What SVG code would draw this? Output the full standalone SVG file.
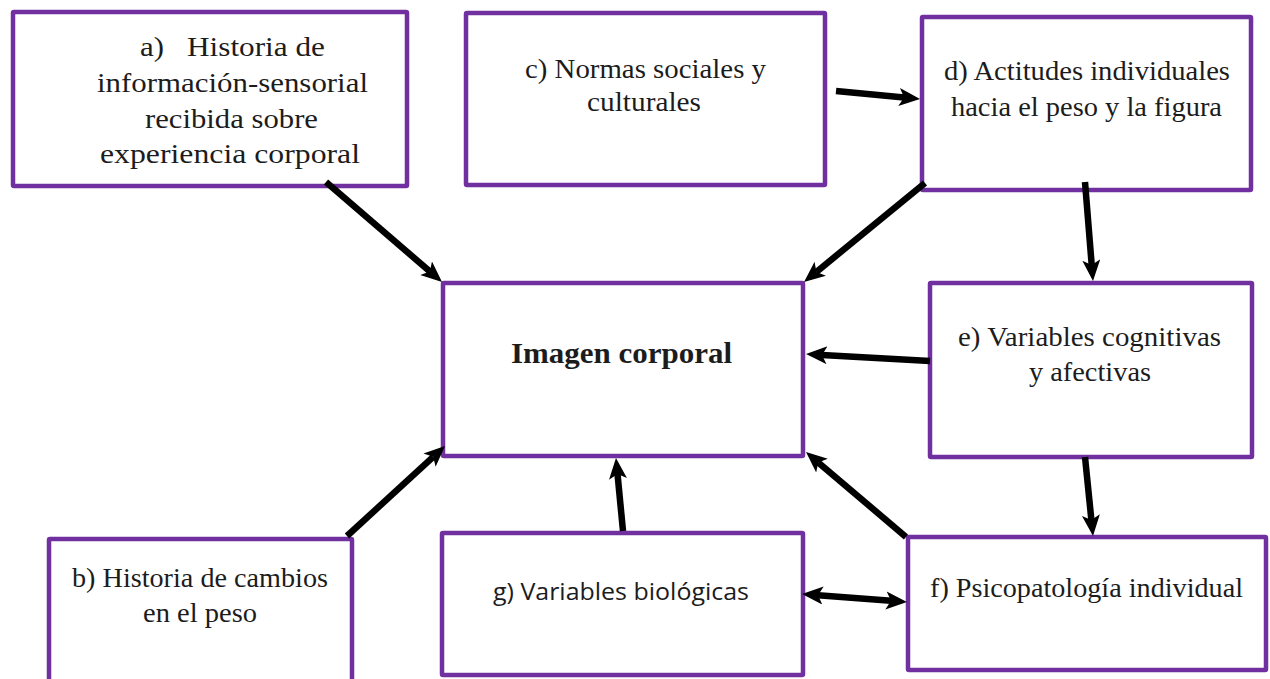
<svg xmlns="http://www.w3.org/2000/svg" width="1270" height="679" viewBox="0 0 1270 679">
<style>
.box{fill:#fff;stroke:#7030A0;stroke-width:4.5}
.t{font-family:"Liberation Serif","Times New Roman",serif;fill:#1c1c1c}
.s{font-family:"Open Sans","Noto Sans",sans-serif;fill:#1c1c1c}
.b{font-weight:bold}
.c{stroke:#000;stroke-width:6.5;fill:none;marker-end:url(#ah)}
</style>
<defs>
<marker id="ah" markerUnits="userSpaceOnUse" markerWidth="24" markerHeight="20" refX="5" refY="9" orient="auto-start-reverse" viewBox="0 0 24 20">
<path d="M0,0 L21,9 L0,18 L5,9 z" fill="#000"/>
</marker>
</defs>
<rect width="1270" height="679" fill="#fff"/>
<g id="node-a">
<rect class="box" x="13" y="12" width="394" height="174" rx="1"/>
<text class="t" font-size="27"><tspan x="140" y="56" textLength="24" lengthAdjust="spacingAndGlyphs">a)</tspan><tspan x="187" y="56" textLength="138" lengthAdjust="spacingAndGlyphs">Historia de</tspan></text>
<text class="t" font-size="27" x="97" y="92" textLength="271" lengthAdjust="spacingAndGlyphs">información-sensorial</text>
<text class="t" font-size="27" x="145" y="128" textLength="173" lengthAdjust="spacingAndGlyphs">recibida sobre</text>
<text class="t" font-size="27" x="100" y="163" textLength="260" lengthAdjust="spacingAndGlyphs">experiencia corporal</text>
</g>
<g id="node-c">
<rect class="box" x="466" y="13" width="359" height="172" rx="1"/>
<text class="t" font-size="27" x="525" y="78" textLength="241" lengthAdjust="spacingAndGlyphs">c) Normas sociales y</text>
<text class="t" font-size="27" x="587" y="111" textLength="114" lengthAdjust="spacingAndGlyphs">culturales</text>
</g>
<g id="node-d">
<rect class="box" x="922" y="17" width="329" height="173" rx="1"/>
<text class="t" font-size="27" x="944" y="80" textLength="286" lengthAdjust="spacingAndGlyphs">d) Actitudes individuales</text>
<text class="t" font-size="27" x="951" y="116" textLength="271" lengthAdjust="spacingAndGlyphs">hacia el peso y la figura</text>
</g>
<g id="node-img">
<rect class="box" x="443" y="283" width="360" height="173" rx="1"/>
<text class="t b" font-size="30" x="511" y="363" textLength="221" lengthAdjust="spacingAndGlyphs">Imagen corporal</text>
</g>
<g id="node-e">
<rect class="box" x="930" y="283" width="322" height="174" rx="1"/>
<text class="t" font-size="27" x="958" y="346" textLength="263" lengthAdjust="spacingAndGlyphs">e) Variables cognitivas</text>
<text class="t" font-size="27" x="1029" y="381" textLength="122" lengthAdjust="spacingAndGlyphs">y afectivas</text>
</g>
<g id="node-b">
<rect class="box" x="49" y="539" width="303" height="170" rx="1"/>
<text class="t" font-size="27" x="72" y="587" textLength="256" lengthAdjust="spacingAndGlyphs">b) Historia de cambios</text>
<text class="t" font-size="27" x="143" y="622" textLength="114" lengthAdjust="spacingAndGlyphs">en el peso</text>
</g>
<g id="node-g">
<rect class="box" x="442" y="533" width="361" height="142" rx="1"/>
<text class="s" font-size="24" x="493" y="600" textLength="256" lengthAdjust="spacingAndGlyphs">g) Variables biológicas</text>
</g>
<g id="node-f">
<rect class="box" x="908" y="537" width="358" height="133" rx="1"/>
<text class="t" font-size="27" x="930" y="597" textLength="313" lengthAdjust="spacingAndGlyphs">f) Psicopatología individual</text>
</g>
<g id="connectors">
<line class="c" x1="326" y1="182" x2="429.9" y2="271.5"/>
<line class="c" x1="836" y1="91" x2="904.1" y2="97.5"/>
<line class="c" x1="925" y1="183" x2="816.4" y2="271.9"/>
<line class="c" x1="1085" y1="182" x2="1091.7" y2="265"/>
<line class="c" x1="930" y1="361" x2="822" y2="354.9"/>
<line class="c" x1="1085" y1="457" x2="1091.4" y2="520.1"/>
<line class="c" x1="906" y1="537" x2="818.2" y2="462.4"/>
<line class="c" x1="623" y1="531" x2="617.5" y2="473.9"/>
<line class="c" x1="347" y1="536" x2="433.2" y2="456.8"/>
<line class="c" x1="818" y1="595.2" x2="891" y2="600.8" marker-start="url(#ah)"/>
</g>
</svg>
